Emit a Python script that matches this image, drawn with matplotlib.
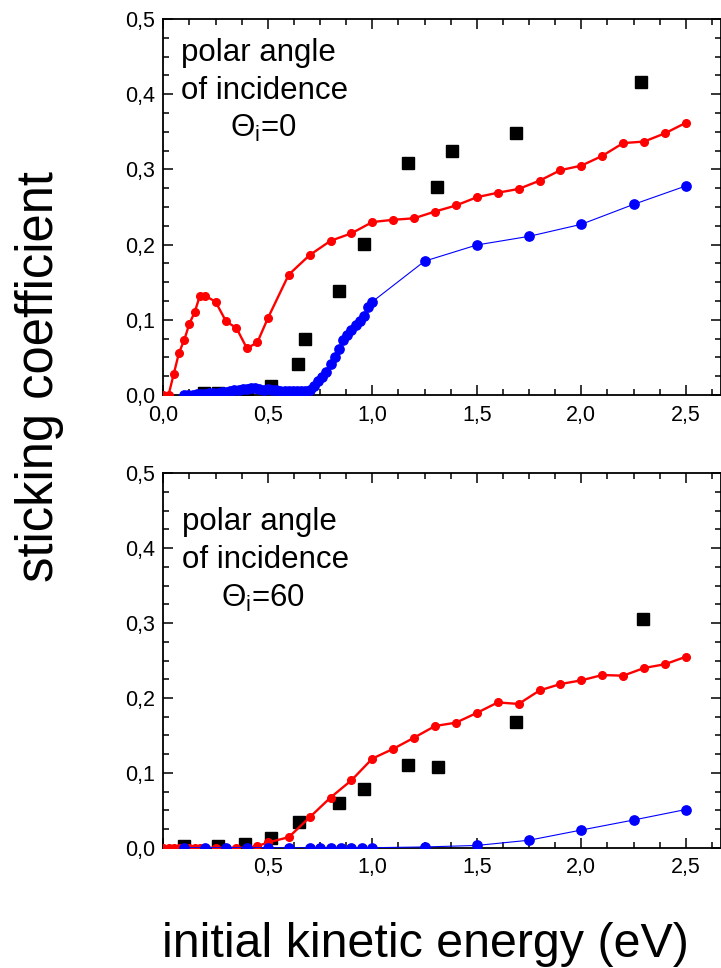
import matplotlib
matplotlib.use("Agg")
import matplotlib.pyplot as plt
from matplotlib.ticker import MultipleLocator, FuncFormatter

plt.rcParams['font.family'] = ['Liberation Sans', 'DejaVu Sans']

# ---------------- data: polar angle 0 ----------------
red0_x = [0.0, 0.025, 0.05, 0.075, 0.1, 0.125, 0.15, 0.175, 0.2, 0.25, 0.3, 0.35, 0.4, 0.45, 0.5,
          0.6, 0.7, 0.8, 0.9, 1.0, 1.1, 1.2, 1.3, 1.4, 1.5, 1.6, 1.7, 1.8, 1.9, 2.0, 2.1, 2.2,
          2.3, 2.4, 2.5]
red0_y = [0.0, 0.0, 0.028, 0.056, 0.073, 0.095, 0.110, 0.132, 0.132, 0.124, 0.098, 0.089, 0.062,
          0.070, 0.102, 0.160, 0.186, 0.205, 0.215, 0.230, 0.233, 0.235, 0.244, 0.252, 0.263,
          0.269, 0.274, 0.285, 0.299, 0.305, 0.318, 0.335, 0.337, 0.348, 0.362]

blue0_x = [0.10, 0.12, 0.14, 0.16, 0.18, 0.20, 0.22, 0.24, 0.26, 0.28, 0.30, 0.32, 0.34, 0.36,
           0.38, 0.40, 0.42, 0.44, 0.46, 0.48, 0.50, 0.52, 0.54, 0.56, 0.58, 0.60, 0.62, 0.64,
           0.66, 0.68, 0.70, 0.72, 0.74, 0.76, 0.78, 0.80, 0.82, 0.84, 0.86, 0.88, 0.90, 0.92,
           0.94, 0.96, 0.98, 1.00, 1.25, 1.50, 1.75, 2.00, 2.25, 2.50]
blue0_y = [0.000, 0.000, 0.000, 0.001, 0.001, 0.001, 0.002, 0.002, 0.003, 0.004, 0.004, 0.005,
           0.006, 0.007, 0.008, 0.008, 0.009, 0.009, 0.008, 0.007, 0.008, 0.007, 0.006, 0.005,
           0.005, 0.005, 0.005, 0.005, 0.005, 0.005, 0.007, 0.012, 0.018, 0.024, 0.031, 0.041,
           0.050, 0.061, 0.073, 0.080, 0.087, 0.093, 0.099, 0.105, 0.117, 0.124, 0.178, 0.1995,
           0.211, 0.227, 0.2535, 0.278]

exp0_x = [0.195, 0.26, 0.40, 0.515, 0.643, 0.68, 0.842, 0.962, 1.172, 1.311, 1.379, 1.687, 2.286]
exp0_y = [0.002, 0.002, 0.0, 0.012, 0.041, 0.075, 0.138, 0.201, 0.308, 0.277, 0.324, 0.349, 0.416]

# ---------------- data: polar angle 60 ----------------
red60_x = [0.0, 0.025, 0.05, 0.075, 0.1, 0.125, 0.15, 0.175, 0.2, 0.25, 0.3, 0.35, 0.4, 0.45, 0.5,
           0.6, 0.7, 0.8, 0.9, 1.0, 1.1, 1.2, 1.3, 1.4, 1.5, 1.6, 1.7, 1.8, 1.9, 2.0, 2.1, 2.2,
           2.3, 2.4, 2.5]
red60_y = [0.0, 0.0, 0.0, 0.0, 0.0, 0.0, 0.0, 0.0, 0.0, 0.0, 0.0, 0.0, 0.0, 0.002, 0.007,
           0.014, 0.0405, 0.067, 0.090, 0.119, 0.132, 0.147, 0.1625, 0.167, 0.180, 0.194, 0.192,
           0.210, 0.2186, 0.2235, 0.2306, 0.2297, 0.240, 0.245, 0.255]

blue60_x = [0.1, 0.2, 0.3, 0.4, 0.5, 0.6, 0.7, 0.75, 0.8, 0.85, 0.9, 0.95, 1.0, 1.25, 1.5, 1.75,
            2.0, 2.25, 2.5]
blue60_y = [0.0, 0.0, 0.0, 0.0, 0.0, 0.0, 0.0, 0.0, 0.0, 0.0, 0.0, 0.0, 0.0, 0.001, 0.003, 0.010,
            0.0236, 0.037, 0.051]

exp60_x = [0.099, 0.26, 0.39, 0.515, 0.65, 0.839, 0.96, 1.172, 1.315, 1.689, 2.295]
exp60_y = [0.002, 0.002, 0.005, 0.013, 0.034, 0.060, 0.079, 0.110, 0.108, 0.168, 0.305]

xticks = [0.0, 0.5, 1.0, 1.5, 2.0, 2.5]
yticks = [0.0, 0.1, 0.2, 0.3, 0.4, 0.5]

W, H = 721, 968
fig = plt.figure(figsize=(W / 100, H / 100), dpi=100)

left = 163.3 / W
right = 1.0
ax1 = fig.add_axes([left, 1 - 395 / H, right - left, (395 - 19) / H])
ax2 = fig.add_axes([left, 1 - 847.7 / H, right - left, (847.7 - 473.3) / H])

comma = FuncFormatter(lambda v, p: f"{v:.1f}".replace('.', ','))
comma_nozero = FuncFormatter(lambda v, p: "" if abs(v) < 1e-9 else f"{v:.1f}".replace('.', ','))


def style(ax, xfmt):
    ax.set_xlim(0, 2.668)
    ax.set_ylim(0, 0.5)
    ax.set_xticks(xticks)
    ax.set_yticks(yticks)
    ax.xaxis.set_minor_locator(MultipleLocator(0.125))
    ax.yaxis.set_minor_locator(MultipleLocator(0.025))
    ax.xaxis.set_major_formatter(xfmt)
    ax.yaxis.set_major_formatter(comma)
    ax.tick_params(which='both', direction='in', top=True, right=True, width=1.1,
                   labelsize=15.5, color='black')
    ax.tick_params(which='major', length=7)
    ax.tick_params(which='minor', length=4)
    ax.tick_params(axis='x', pad=7)
    ax.tick_params(axis='y', pad=6)
    for s in ax.spines.values():
        s.set_linewidth(1.3)


def draw(ax, ex, ey, rx, ry, bx, by):
    ax.plot(ex, ey, linestyle='none', marker='s', markersize=8, color='black', zorder=2)
    ax.plot(rx, ry, color='#ff0000', linewidth=1.7, marker='o', markersize=5.5, zorder=3)
    ax.plot(bx, by, color='#0000ff', linewidth=0.8, marker='o', markersize=6.7, zorder=4)


draw(ax1, exp0_x, exp0_y, red0_x, red0_y, blue0_x, blue0_y)
draw(ax2, exp60_x, exp60_y, red60_x, red60_y, blue60_x, blue60_y)
style(ax1, comma)
style(ax2, comma_nozero)

fs = 22.5
ax1.text(0.085, 0.444, "polar angle", fontsize=fs, va='baseline', ha='left')
ax1.text(0.085, 0.394, "of incidence", fontsize=fs, va='baseline', ha='left')
ax1.text(0.478, 0.343, r"$\mathregular{Θ_i}$=0", fontsize=fs, va='baseline', ha='center')

ax2.text(0.088, 0.424, "polar angle", fontsize=fs, va='baseline', ha='left')
ax2.text(0.088, 0.3735, "of incidence", fontsize=fs, va='baseline', ha='left')
ax2.text(0.478, 0.3214, r"$\mathregular{Θ_i}$=60", fontsize=fs, va='baseline', ha='center')

fig.text(40 / W, 1 - 377 / H, "sticking coefficient", rotation=90, fontsize=36.5,
         ha='center', va='center')
fig.text(425.5 / W, 1 - 957 / H, "initial kinetic energy (eV)", fontsize=34.8,
         ha='center', va='baseline')

fig.savefig("out.png", dpi=100)
